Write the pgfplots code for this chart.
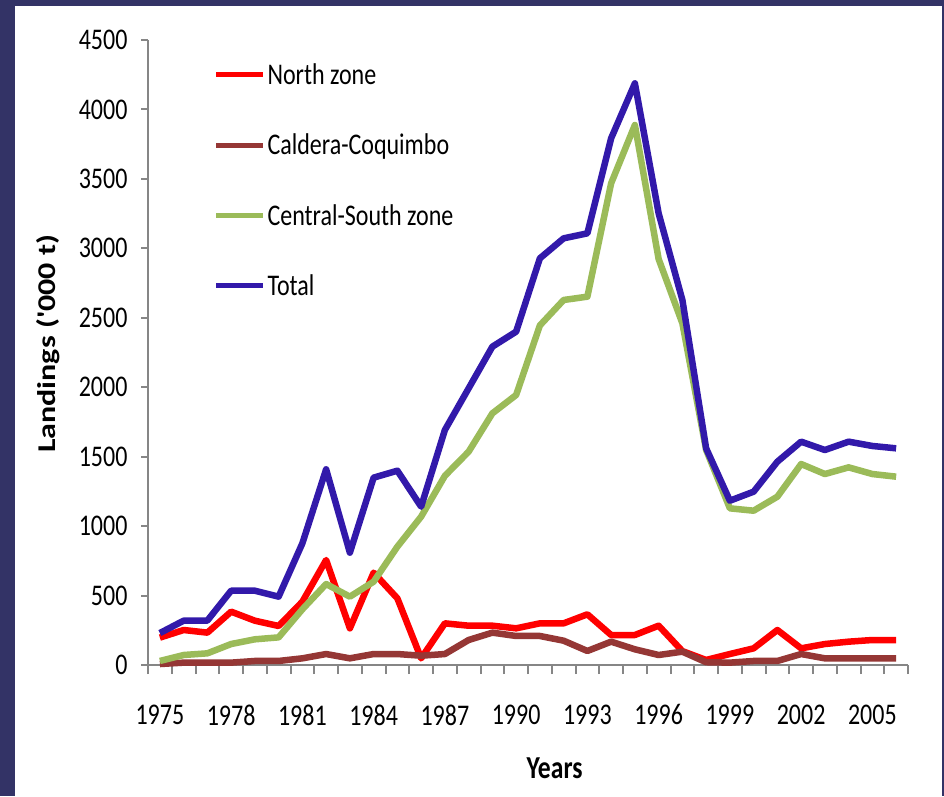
\documentclass[border=0pt]{standalone}
\usepackage{fontspec}
\setmainfont{Carlito}[FakeStretch=0.8]
\newfontfamily\ylabfont{Carlito}[FakeStretch=1.0]
\usepackage{graphicx}
\usepackage{pgfplots}
\pgfplotsset{compat=1.18}
\definecolor{navyframe}{RGB}{51,51,102}
\definecolor{axgray}{RGB}{134,134,134}
\definecolor{cnorth}{RGB}{255,0,0}
\definecolor{ccald}{RGB}{149,55,53}
\definecolor{ccs}{RGB}{155,187,89}
\definecolor{ctot}{RGB}{50,25,170}
\begin{document}
\begin{tikzpicture}
\fill[navyframe] (0pt,0pt) rectangle (944pt,796pt);
\fill[white] (15pt,0pt) rectangle (942pt,790pt);
\begin{axis}[
  at={(148pt,131pt)}, anchor=south west,
  scale only axis, width=760pt, height=625pt,
  xmin=1974.5, xmax=2006.5, ymin=0, ymax=4500,
  axis x line*=bottom, axis y line*=left,
  axis line style={draw=axgray, line width=2pt, -},
  every tick/.style={draw=axgray, line width=2pt},
  tick align=outside,
  xtick={1975,1978,...,2005},
  xticklabels={1975,1978,1981,1984,1987,1990,1993,1996,1999,2002,2005},
  major x tick style={draw=none},
  minor xtick={1974.5,1975.5,...,2006.5},
  minor tick length=9pt,
  major tick length=7pt,
  ytick={0,500,...,4500},
  yticklabels={0,500,1000,1500,2000,2500,3000,3500,4000,4500},
  tick label style={font=\fontsize{30}{36}\selectfont},
  xticklabel style={yshift=-29pt},
  yticklabel style={xshift=-10pt},
  xlabel={Years},
  ylabel={\scalebox{1}[0.8]{\ylabfont\fontsize{32}{36}\selectfont\bfseries Landings ('000 t)}},
  xlabel style={font=\fontsize{32}{36}\selectfont\bfseries, at={(axis description cs:0.535,-0.165)}, anchor=center},
  ylabel style={at={(axis description cs:-0.132,0.514)}, anchor=center, rotate=0},
  legend cell align=left,
  legend style={draw=none, fill=none, at={(axis description cs:0.082,0.969)}, anchor=north west,
     font=\fontsize{30}{36}\selectfont, row sep=44pt},
  legend image code/.code={\draw[#1, line width=5pt] (0pt,0pt) -- (47pt,0pt);},
  every axis plot/.append style={line width=6.5pt, line join=round, no markers},
  clip=false,
]
\addplot[cnorth] coordinates {
(1975,197)(1976,252)(1977,233)(1978,384)(1979,319)(1980,281)(1981,456)(1982,756)
(1983,264)(1984,665)(1985,480)(1986,48)(1987,300)(1988,283)(1989,283)(1990,264)
(1991,300)(1992,300)(1993,365)(1994,216)(1995,216)(1996,283)(1997,100)(1998,36)
(1999,79)(2000,120)(2001,252)(2002,120)(2003,151)(2004,168)(2005,180)(2006,180)};
\addlegendentry{North zone}
\addplot[ccald] coordinates {
(1975,7)(1976,17)(1977,17)(1978,17)(1979,29)(1980,29)(1981,48)(1982,79)
(1983,48)(1984,79)(1985,79)(1986,67)(1987,79)(1988,180)(1989,233)(1990,209)
(1991,209)(1992,175)(1993,101)(1994,168)(1995,113)(1996,72)(1997,96)(1998,20)
(1999,17)(2000,29)(2001,29)(2002,79)(2003,48)(2004,48)(2005,48)(2006,48)};
\addlegendentry{Caldera-Coquimbo}
\addplot[ccs] coordinates {
(1975,29)(1976,72)(1977,84)(1978,151)(1979,185)(1980,199)(1981,401)(1982,583)
(1983,492)(1984,600)(1985,852)(1986,1068)(1987,1362)(1988,1536)(1989,1812)(1990,1944)
(1991,2445)(1992,2628)(1993,2652)(1994,3468)(1995,3888)(1996,2923)(1997,2460)(1998,1548)
(1999,1128)(2000,1111)(2001,1212)(2002,1447)(2003,1375)(2004,1423)(2005,1375)(2006,1356)};
\addlegendentry{Central-South zone}
\addplot[ctot] coordinates {
(1975,230)(1976,319)(1977,320)(1978,535)(1979,535)(1980,492)(1981,876)(1982,1409)
(1983,809)(1984,1349)(1985,1399)(1986,1140)(1987,1692)(1988,1992)(1989,2292)(1990,2400)
(1991,2928)(1992,3072)(1993,3108)(1994,3792)(1995,4188)(1996,3252)(1997,2628)(1998,1560)
(1999,1183)(2000,1248)(2001,1464)(2002,1608)(2003,1548)(2004,1608)(2005,1577)(2006,1560)};
\addlegendentry{Total}
\end{axis}
\end{tikzpicture}
\end{document}
